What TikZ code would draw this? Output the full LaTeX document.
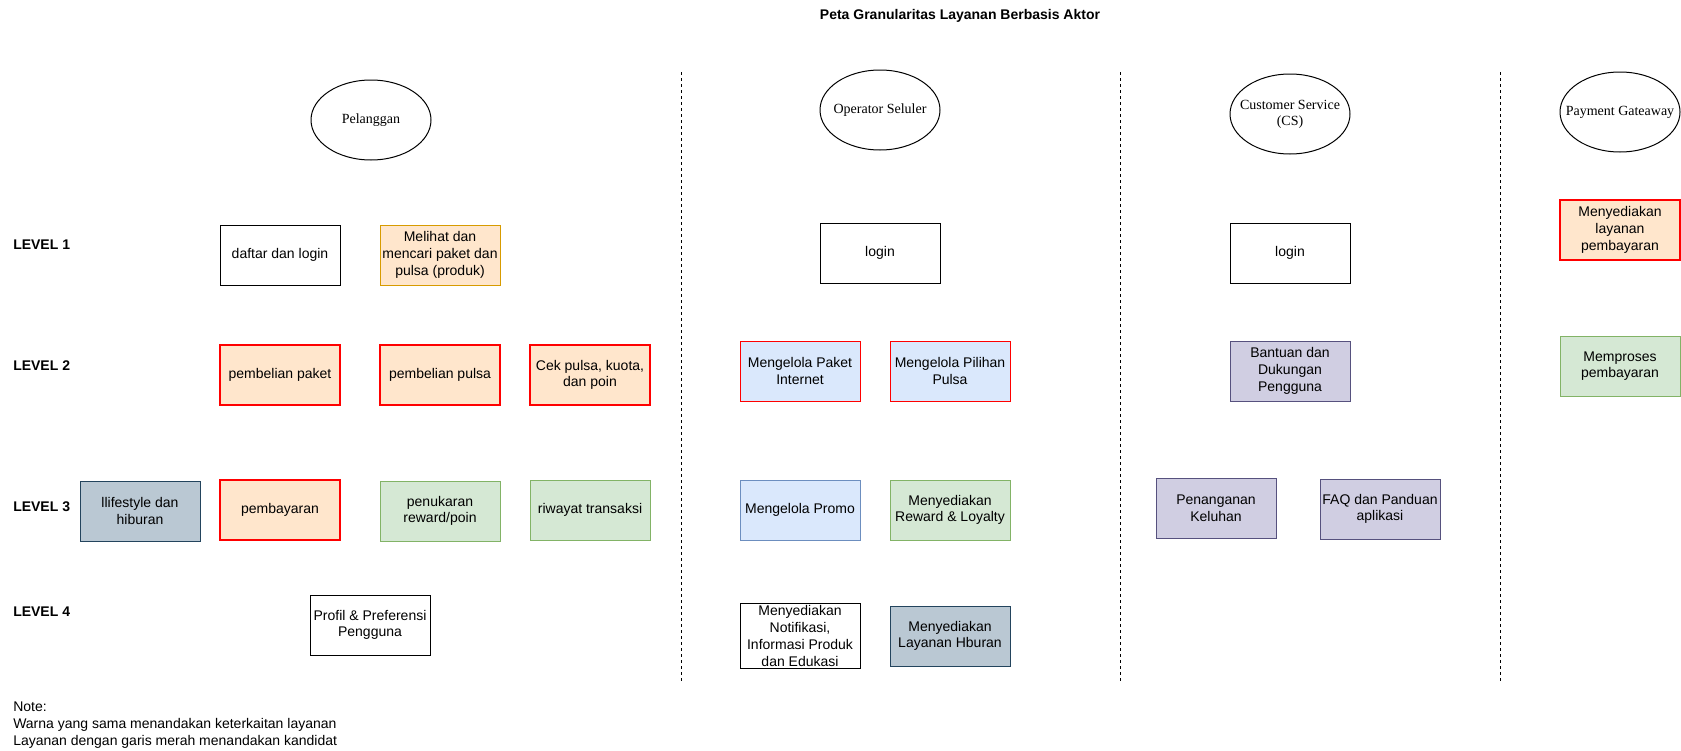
\documentclass[tikz,border=0pt]{standalone}
\usepackage{fontspec}
\setmainfont{Liberation Sans}
\newfontfamily\actorfont{Liberation Serif}
\usetikzlibrary{shapes.geometric}

\definecolor{orangefill}{HTML}{FFE6CC}
\definecolor{orangeline}{HTML}{D79B00}
\definecolor{bluefill}{HTML}{DAE8FC}
\definecolor{blueline}{HTML}{6C8EBF}
\definecolor{greenfill}{HTML}{D5E8D4}
\definecolor{greenline}{HTML}{82B366}
\definecolor{purplefill}{HTML}{D0CEE2}
\definecolor{purpleline}{HTML}{56517E}
\definecolor{grayfill}{HTML}{BAC8D3}
\definecolor{grayline}{HTML}{23445D}
\definecolor{candred}{HTML}{FF0000}

% actor text set in a zero-width box so the ellipse keeps its size
\newcommand{\actorlabel}[1]{\makebox[0pt]{\begin{tabular}{@{}c@{}}#1\end{tabular}}}

\begin{document}
\begin{tikzpicture}
          [x=0.75pt,y=-0.75pt,
          font=\fontsize{10.5}{12.5}\selectfont,
          box/.style={shape=rectangle,draw=black,fill=white,align=center,
            minimum width=90pt,minimum height=45pt,inner sep=1pt,line width=0.75pt},
          plain/.style={box},
          candidate/.style={box,draw=candred,fill=orangefill,line width=1.5pt},
          orangebox/.style={box,draw=orangeline,fill=orangefill},
          bluebox/.style={box,draw=blueline,fill=bluefill},
          redblue/.style={box,draw=candred,fill=bluefill},
          greenbox/.style={box,draw=greenline,fill=greenfill},
          purplebox/.style={box,draw=purpleline,fill=purplefill},
          graybox/.style={box,draw=grayline,fill=grayfill},
          actor/.style={shape=ellipse,draw=black,font=\actorfont\fontsize{10.5}{12.5}\selectfont,
            minimum width=90pt,minimum height=60pt,inner sep=0pt,line width=0.75pt},
          level/.style={anchor=west,inner sep=0pt,font=\bfseries\fontsize{10.5}{12.5}\selectfont},
          divider/.style={line width=0.75pt,dash pattern=on 2.25pt off 2.25pt}]

            \useasboundingbox (0,0) rectangle (1681,750);

            \node (title) [font=\bfseries\fontsize{10.5}{12.5}\selectfont] at (960,16) {Peta Granularitas Layanan Berbasis Aktor};

            % actors
            \node (pelanggan) [actor] at (371,120) {\actorlabel{Pelanggan}};
            \node (operator) [actor] at (880,110) {\actorlabel{Operator Seluler}};
            \node (cs) [actor] at (1290,114) {\actorlabel{Customer Service\\(CS)}};
            \node (gateway) [actor] at (1620,112) {\actorlabel{Payment Gateaway}};

            % levels
            \node (lv1) [level] at (13,245) {LEVEL 1};
            \node (lv2) [level] at (13,366) {LEVEL 2};
            \node (lv3) [level] at (13,507) {LEVEL 3};
            \node (lv4) [level] at (13,612) {LEVEL 4};

            % pelanggan
            \node (daftar) [plain] at (280,255) {daftar dan login};
            \node (melihat) [orangebox] at (440,255) {Melihat dan\\mencari paket dan\\pulsa (produk)};
            \node (belipaket) [candidate] at (280,375) {pembelian paket};
            \node (belipulsa) [candidate] at (440,375) {pembelian pulsa};
            \node (cekpulsa) [candidate] at (590,375) {Cek pulsa, kuota,\\dan poin};
            \node (lifestyle) [graybox] at (140,511) {llifestyle dan\\hiburan};
            \node (bayar) [candidate] at (280,510) {pembayaran};
            \node (tukar) [greenbox] at (440,511) {penukaran\\reward/poin};
            \node (riwayat) [greenbox] at (590,510) {riwayat transaksi};
            \node (profil) [plain] at (370,625) {Profil \& Preferensi\\Pengguna};

            % operator seluler
            \node (oplogin) [plain] at (880,253) {login};
            \node (kelolapaket) [redblue] at (800,371) {Mengelola Paket\\Internet};
            \node (kelolapulsa) [redblue] at (950,371) {Mengelola Pilihan\\Pulsa};
            \node (promo) [bluebox] at (800,510) {Mengelola Promo};
            \node (reward) [greenbox] at (950,510) {Menyediakan\\Reward \& Loyalty};
            \node (notif) [plain,font=\fontsize{10.5}{12.9}\selectfont] at (800,636) {Menyediakan\\Notifikasi,\\Informasi Produk\\dan Edukasi};
            \node (hiburan) [graybox] at (950,636) {Menyediakan\\Layanan Hburan};

            % customer service
            \node (cslogin) [plain] at (1290,253) {login};
            \node (bantuan) [purplebox] at (1290,371) {Bantuan dan\\Dukungan\\Pengguna};
            \node (keluhan) [purplebox] at (1216,508) {Penanganan\\Keluhan};
            \node (faq) [purplebox] at (1380,509) {FAQ dan Panduan\\aplikasi};

            % payment gateway
            \node (sediabayar) [candidate] at (1620,230) {Menyediakan\\layanan\\pembayaran};
            \node (proses) [greenbox] at (1620,366) {Memproses\\pembayaran};

            % dividers
            \coordinate (d1a) at (681,72);  \coordinate (d1b) at (681,681);
            \coordinate (d2a) at (1120,72); \coordinate (d2b) at (1120,681);
            \coordinate (d3a) at (1500,72); \coordinate (d3b) at (1500,681);
          \draw [divider] (d1a) -- (d1b);
          \draw [divider] (d2a) -- (d2b);
          \draw [divider] (d3a) -- (d3b);

            \node (note) [anchor=north west,align=left,inner sep=0pt] at (13,702)
              {Note:\\Warna yang sama menandakan keterkaitan layanan\\Layanan dengan garis merah menandakan kandidat};

        \end{tikzpicture}
\end{document}
